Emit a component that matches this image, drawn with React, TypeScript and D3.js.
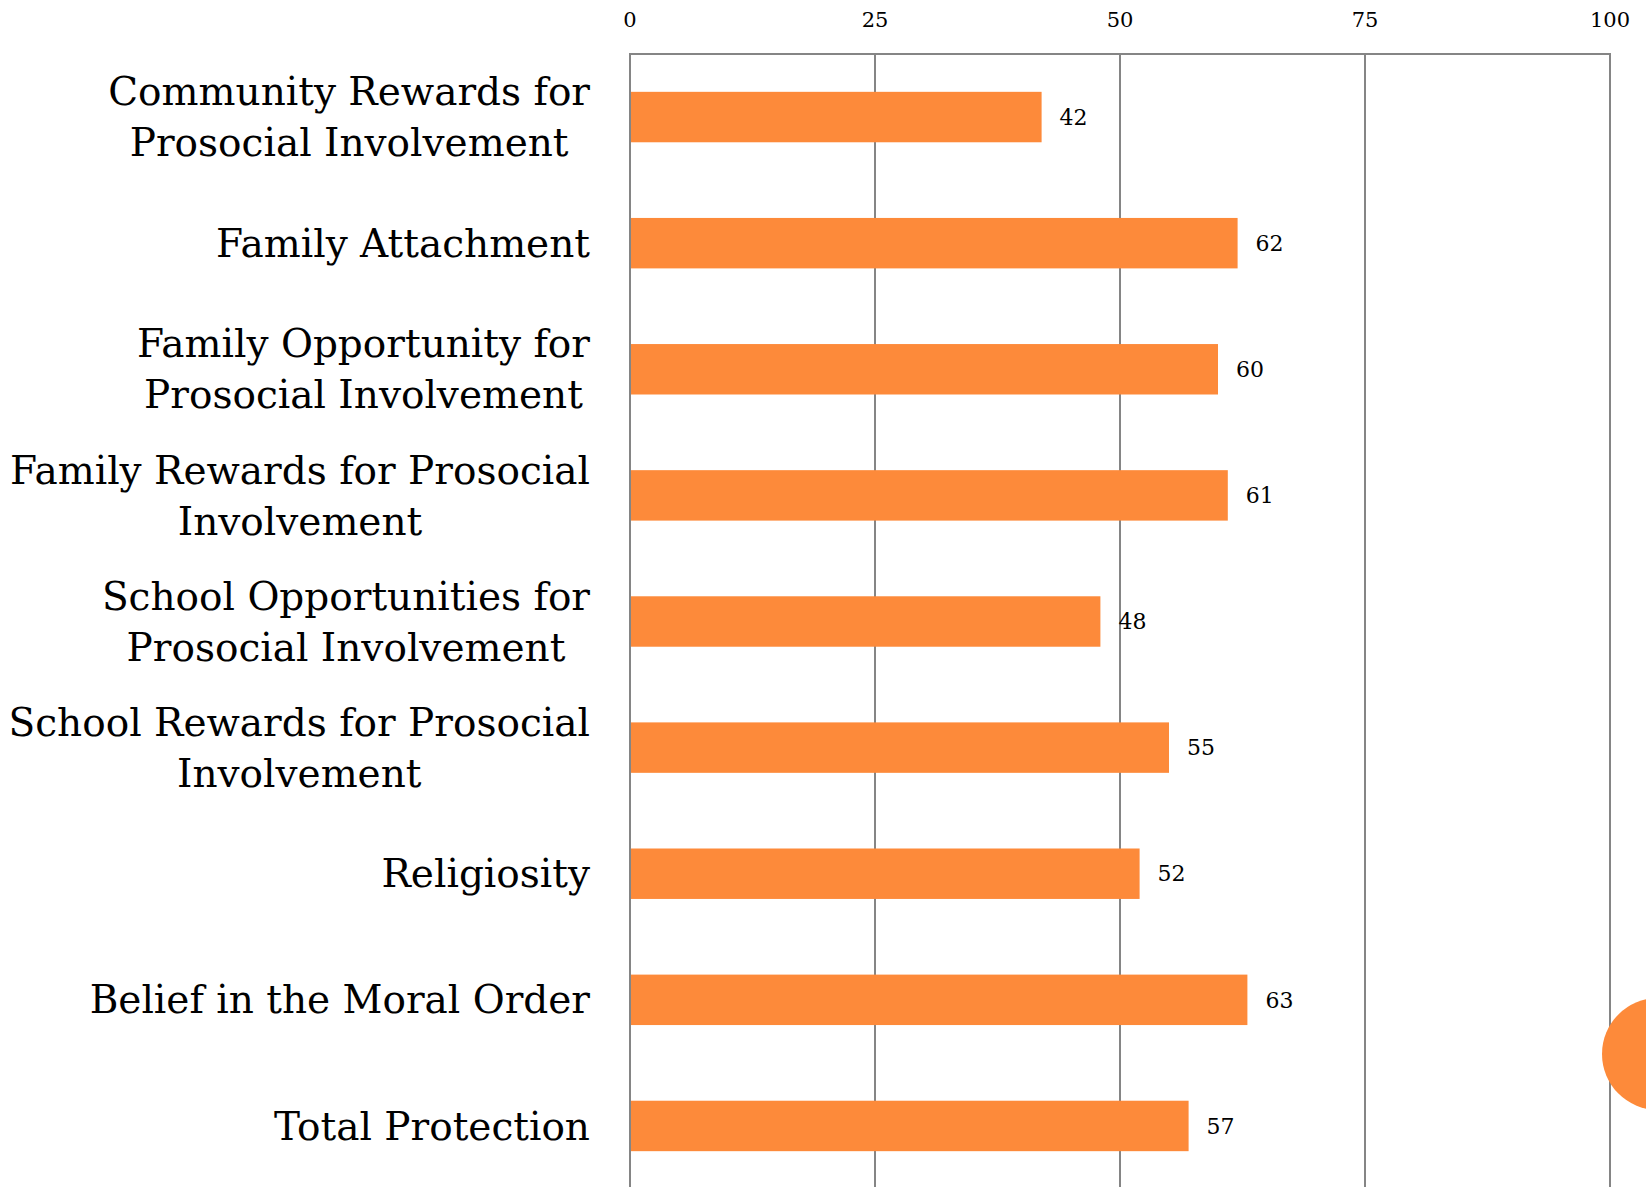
import { useEffect, useRef } from "react"
import * as d3 from "d3"

// category labels, already broken into lines as in the source
const categories: string[][] = [
    ["Community Rewards for", "Prosocial Involvement"],
    ["Family Attachment"],
    ["Family Opportunity for", "Prosocial Involvement"],
    ["Family Rewards for Prosocial", "Involvement"],
    ["School Opportunities for", "Prosocial Involvement"],
    ["School Rewards for Prosocial", "Involvement"],
    ["Religiosity"],
    ["Belief in the Moral Order"],
    ["Total Protection"],
]
const values = [42, 62, 60, 61, 48, 55, 52, 63, 57]
const xTicks = [0, 25, 50, 75, 100]

const ORANGE = "#fd8a3a"
const GRID = "#858585"
const SERIF = "'DejaVu Serif', serif"

export default function App() {
    const ref = useRef<SVGSVGElement | null>(null)

    useEffect(() => {
        const width = 1646
        const height = 1187
        const left = 630
        const right = 1610
        const top = 54
        const bottom = 1189

        const svg = d3.select(ref.current)
        svg.selectAll("*").remove()

        const x = d3.scaleLinear().domain([0, 100]).range([left, right])
        const y = d3.scaleBand<number>()
            .domain(d3.range(categories.length))
            .range([top, bottom])
            .paddingInner(0.6)
            .paddingOuter(0.3)

        // grid + frame
        const g = svg.append("g")
        g.selectAll("line.grid")
            .data(xTicks)
            .join("line")
            .attr("class", "grid")
            .attr("x1", d => x(d))
            .attr("x2", d => x(d))
            .attr("y1", top)
            .attr("y2", height + 10)
            .attr("stroke", GRID)
            .attr("stroke-width", 2)
        g.append("line")
            .attr("x1", left - 1)
            .attr("x2", right + 1)
            .attr("y1", top)
            .attr("y2", top)
            .attr("stroke", GRID)
            .attr("stroke-width", 2)

        // tick labels on top
        g.selectAll("text.tick")
            .data(xTicks)
            .join("text")
            .attr("class", "tick")
            .attr("x", d => x(d))
            .attr("y", 20)
            .attr("dy", "0.35em")
            .attr("text-anchor", "middle")
            .attr("font-family", SERIF)
            .attr("font-size", 21)
            .text(d => String(d))

        // bars
        g.selectAll("rect.bar")
            .data(values)
            .join("rect")
            .attr("class", "bar")
            .attr("x", x(0) + 1)
            .attr("y", (_, i) => y(i)!)
            .attr("width", d => x(d) - x(0) - 1)
            .attr("height", y.bandwidth())
            .attr("fill", ORANGE)

        // value labels
        g.selectAll("text.val")
            .data(values)
            .join("text")
            .attr("class", "val")
            .attr("x", d => x(d) + 18)
            .attr("y", (_, i) => y(i)! + y.bandwidth() / 2)
            .attr("dy", "0.35em")
            .attr("font-family", SERIF)
            .attr("font-size", 22)
            .text(d => String(d))

        // category labels: block right-aligned, lines centered within block
        const lineH = 51
        categories.forEach((lines, i) => {
            const cy = y(i)! + y.bandwidth() / 2
            const grp = svg.append("g")
            const texts = lines.map((ln, j) =>
                grp.append("text")
                    .attr("y", cy + (j - (lines.length - 1) / 2) * lineH)
                    .attr("dy", "0.35em")
                    .attr("text-anchor", "middle")
                    .attr("font-family", SERIF)
                    .attr("font-size", 39)
                    .text(ln)
            )
            const maxW = d3.max(texts, t => (t.node() as SVGTextElement).getComputedTextLength()) ?? 0
            texts.forEach(t => t.attr("x", 590 - maxW / 2))
        })

        // decorative circle at the right edge
        svg.append("circle")
            .attr("cx", 1658)
            .attr("cy", 1054)
            .attr("r", 56)
            .attr("fill", ORANGE)

        svg.attr("width", width).attr("height", height)
    }, [])

    return (
        <div style={{ position: "absolute", left: 0, top: 0 }}>
            <svg ref={ref} width={1646} height={1187} style={{ display: "block", background: "#fff" }} />
        </div>
    )
}
